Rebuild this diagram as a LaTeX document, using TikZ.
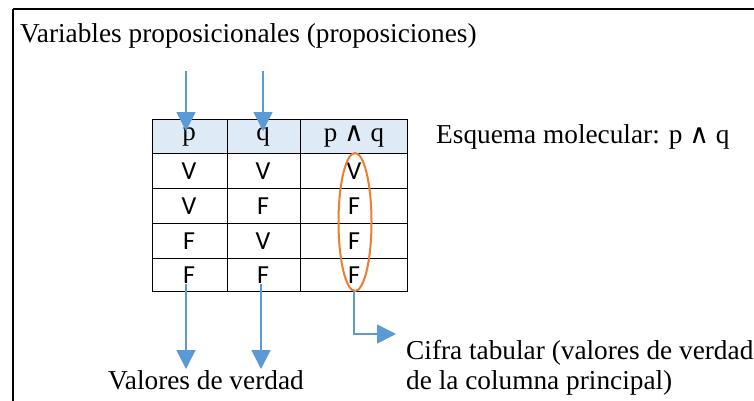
\documentclass[tikz,border=0pt]{standalone}
\usepackage{fontspec}
\setmainfont{Liberation Serif}
\newfontfamily\cellfont{Carlito}
\newfontfamily\symfont{DejaVu Sans}
\newcommand{\myand}{{\symfont\fontsize{27}{27}\selectfont ∧}}
\usetikzlibrary{arrows.meta,calc}
\definecolor{arrowblue}{HTML}{5B9BD5}
\definecolor{headblue}{HTML}{DEEAF6}
\definecolor{ellorange}{HTML}{ED7D31}
\tikzset{
  lbl/.style={font=\fontsize{27.3}{32}\selectfont, inner sep=0pt, anchor=base west},
  hd/.style={font=\fontsize{27}{32}\selectfont, inner sep=0pt},
  val/.style={font=\cellfont\fontsize{26}{30}\selectfont, inner sep=0pt},
  bluearrow/.style={draw=arrowblue, line width=1.5pt, -{Triangle[length=19pt,width=19pt]}},
  grid/.style={draw=black, line width=0.9pt},
}
\begin{document}
\begin{tikzpicture}[x=1pt,y=-1pt]
\useasboundingbox (0,0) rectangle (754,400);
% outer frame (runs off the canvas on the right and bottom)
\draw[line width=2pt] (13,9) -- (770,9) (13,9) -- (13,420);
% header fill
\fill[headblue] (152,119) rectangle (407,153);
% grid
\draw[grid] (152,119) rectangle (407,291);
\foreach \yy in {153,188,223,258} \draw[grid] (152,\yy) -- (407,\yy);
\foreach \xx in {227,300} \draw[grid] (\xx,119) -- (\xx,291);
% header
\node[hd] (hp) at (189,137) {p};
\node[hd] (hq) at (263,137) {q};
\node[hd] (hpq) at (354,137) {p \myand{} q};
% values
\node[val] (v11) at (189,171) {V};
\node[val] (v12) at (263,171) {V};
\node[val] (v13) at (354,171) {V};
\node[val] (v21) at (189,206) {V};
\node[val] (v22) at (263,206) {F};
\node[val] (v23) at (354,206) {F};
\node[val] (v31) at (189,241) {F};
\node[val] (v32) at (263,241) {V};
\node[val] (v33) at (354,241) {F};
\node[val] (v41) at (189,275) {F};
\node[val] (v42) at (263,275) {F};
\node[val] (v43) at (354,275) {F};
% ellipse round the main column
\draw[ellorange, line width=2pt] (355,222) ellipse [x radius=16.5, y radius=69];
\coordinate (ellbot) at (354,291);
% labels
\node[lbl] (top) at (20,42) {Variables proposicionales (proposiciones)};
\node[lbl] (esq) at (436,143) {Esquema molecular: p \myand{} q};
\node[lbl] (val) at (108,389) {Valores de verdad};
\node[lbl] (cif1) at (406,359) {Cifra tabular (valores de verdad};
\node[lbl] (cif2) at (406,389) {de la columna principal)};
% arrows
\coordinate (t1) at (186,71);
\coordinate (t2) at (263,71);
\coordinate (e1) at (186,131);
\coordinate (e2) at (263,131);
\draw[bluearrow] (t1) -- (e1);
\draw[bluearrow] (t2) -- (e2);
\coordinate (b1) at (186,369);
\coordinate (b2) at (261,369);
\draw[bluearrow] (v41.south -| b1) -- (b1);
\draw[bluearrow] (v42.south -| b2) -- (b2);
\coordinate (elb) at (354,334);
\coordinate (etip) at (396,334);
\draw[bluearrow] (ellbot) -- (elb) -- (etip);
\end{tikzpicture}
\end{document}
